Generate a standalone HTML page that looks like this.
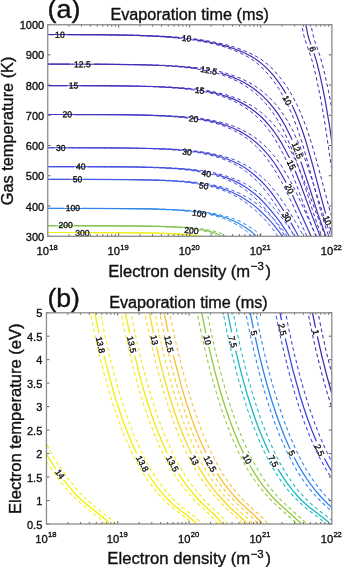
<!DOCTYPE html>
<html><head><meta charset="utf-8"><style>
html,body{margin:0;padding:0;background:#fff;width:342px;height:567px;overflow:hidden}
svg{display:block;will-change:transform}
text{font-family:"Liberation Sans", sans-serif;fill:#111;stroke:#111;stroke-width:0.35px}
.ax{fill:none;stroke:#8c8c8c;stroke-width:1.3}
.tk{fill:none;stroke:#505050;stroke-width:0.9}
.cl{font-size:8.6px;fill:#111}
</style></head><body>
<svg width="342" height="567" viewBox="0 0 342 567">
<rect width="342" height="567" fill="#fff"/>
<defs><clipPath id="clipa"><rect x="47.6" y="24.6" width="284.2" height="211.6"/></clipPath>
<clipPath id="clipb"><rect x="46.4" y="312.7" width="285.40000000000003" height="211.3"/></clipPath></defs>
<path d="M301.49 21.60L302.34 28.35L303.85 35.60L305.40 40.85L310.40 55.22L312.65 62.56L315.86 75.60L319.24 91.35L321.98 105.85L324.71 122.10L333.65 182.16" stroke="#3e2db4" stroke-width="1.0" stroke-dasharray="3.6,2.8" fill="none" clip-path="url(#clipa)"/>
<path d="M310.79 21.60L311.64 28.35L313.15 35.60L314.70 40.85L319.70 55.22L321.95 62.56L325.16 75.60L328.54 91.35L331.28 105.85L334.01 122.10L342.95 182.16" stroke="#3e2db4" stroke-width="1.0" stroke-dasharray="3.6,2.8" fill="none" clip-path="url(#clipa)"/>
<path d="M305.69 21.60L306.38 27.35L307.58 33.60L308.89 38.60L310.87 44.60" stroke="#3e2db4" stroke-width="1.2" fill="none" clip-path="url(#clipa)"/>
<path d="M313.97 53.35L316.60 61.66L319.10 71.48L322.37 86.10L325.18 100.35L329.53 126.10L337.85 182.16" stroke="#3e2db4" stroke-width="1.2" fill="none" clip-path="url(#clipa)"/>
<text class="cl" transform="translate(312.60,48.90) rotate(70.4)" text-anchor="middle" dy="3.0">6</text>
<path d="M37.40 34.52L96.15 34.72L131.90 35.31L159.90 36.55L172.15 37.49L183.40 38.66L194.65 40.20L205.15 42.06L214.90 44.24L224.15 46.81L232.65 49.72L240.15 52.87L247.15 56.46L253.15 60.25L258.15 64.14L263.90 69.60L269.15 75.45L274.15 81.89L278.90 88.89L283.31 96.35L287.58 104.60L291.56 113.35L297.02 127.35L302.40 143.74L308.03 163.35L320.50 210.35L325.20 225.85L329.76 239.35" stroke="#3e2db4" stroke-width="1.0" stroke-dasharray="3.6,2.8" fill="none" clip-path="url(#clipa)"/>
<path d="M46.70 34.52L105.45 34.72L141.20 35.31L169.20 36.55L181.45 37.49L192.70 38.66L203.95 40.20L214.45 42.06L224.20 44.24L233.45 46.81L241.95 49.72L249.45 52.87L256.45 56.46L262.45 60.25L267.45 64.14L273.20 69.60L278.45 75.45L283.45 81.89L288.20 88.89L292.61 96.35L296.88 104.60L300.86 113.35L306.32 127.35L311.70 143.74L317.33 163.35L329.80 210.35L334.50 225.85L339.06 239.35" stroke="#3e2db4" stroke-width="1.0" stroke-dasharray="3.6,2.8" fill="none" clip-path="url(#clipa)"/>
<path d="M41.60 34.52L53.10 34.53" stroke="#3e2db4" stroke-width="1.2" fill="none" clip-path="url(#clipa)"/>
<path d="M66.85 34.56L107.85 34.80L136.60 35.33L159.85 36.29L179.85 37.82" stroke="#3e2db4" stroke-width="1.2" fill="none" clip-path="url(#clipa)"/>
<path d="M193.60 39.43L202.60 40.82L211.35 42.47L219.35 44.30L227.10 46.43L234.10 48.71L240.85 51.32L246.85 54.07L252.35 57.04L256.85 59.90L261.11 63.10L265.60 67.11L269.85 71.45L274.10 76.36L278.35 81.89L282.35 87.72L285.95 93.60" stroke="#3e2db4" stroke-width="1.2" fill="none" clip-path="url(#clipa)"/>
<path d="M292.10 105.27L295.76 113.35L299.19 121.85L302.60 131.30L305.85 141.30L311.89 162.10L321.68 199.35L325.65 213.60" stroke="#3e2db4" stroke-width="1.2" fill="none" clip-path="url(#clipa)"/>
<path d="M329.73 226.85L333.96 239.35" stroke="#3e2db4" stroke-width="1.2" fill="none" clip-path="url(#clipa)"/>
<text class="cl" transform="translate(59.90,34.70) rotate(0.1)" text-anchor="middle" dy="3.0">10</text>
<text class="cl" transform="translate(186.70,38.30) rotate(6.6)" text-anchor="middle" dy="3.0">10</text>
<text class="cl" transform="translate(287.20,100.40) rotate(62.3)" text-anchor="middle" dy="3.0">10</text>
<text class="cl" transform="translate(327.30,220.40) rotate(72.9)" text-anchor="middle" dy="3.0">10</text>
<path d="M37.40 64.11L98.65 64.25L134.40 64.67L161.40 65.58L182.40 67.12L192.40 68.29L201.40 69.71L209.65 71.40L217.40 73.41L224.65 75.75L231.40 78.41L237.90 81.50L243.90 84.89L249.90 88.90L255.40 93.24L260.65 98.07L265.65 103.42L270.40 109.27L275.05 115.85L279.36 122.85L283.40 130.30L289.78 144.10L296.65 161.70L303.40 181.74L313.59 213.60L322.80 239.35" stroke="#402fb8" stroke-width="1.0" stroke-dasharray="3.6,2.8" fill="none" clip-path="url(#clipa)"/>
<path d="M46.70 64.11L107.95 64.25L143.70 64.67L170.70 65.58L191.70 67.12L201.70 68.29L210.70 69.71L218.95 71.40L226.70 73.41L233.95 75.75L240.70 78.41L247.20 81.50L253.20 84.89L259.20 88.90L264.70 93.24L269.95 98.07L274.95 103.42L279.70 109.27L284.35 115.85L288.66 122.85L292.70 130.30L299.08 144.10L305.95 161.70L312.70 181.74L322.89 213.60L332.10 239.35" stroke="#402fb8" stroke-width="1.0" stroke-dasharray="3.6,2.8" fill="none" clip-path="url(#clipa)"/>
<path d="M41.60 64.11L70.60 64.14" stroke="#402fb8" stroke-width="1.2" fill="none" clip-path="url(#clipa)"/>
<path d="M94.10 64.21L131.85 64.54L158.60 65.26L179.85 66.51L197.35 68.40" stroke="#402fb8" stroke-width="1.2" fill="none" clip-path="url(#clipa)"/>
<path d="M220.35 73.05L226.60 74.97L232.60 77.16L238.10 79.53L243.60 82.30L248.85 85.35L253.60 88.54L258.10 91.98L262.60 95.91L266.85 100.12L270.85 104.58L274.85 109.60L278.60 114.88L282.10 120.37L285.60 126.50L292.14 139.85" stroke="#402fb8" stroke-width="1.2" fill="none" clip-path="url(#clipa)"/>
<path d="M300.81 161.60L307.60 181.74L317.79 213.60L327.00 239.35" stroke="#402fb8" stroke-width="1.2" fill="none" clip-path="url(#clipa)"/>
<text class="cl" transform="translate(82.40,64.30) rotate(0.2)" text-anchor="middle" dy="3.0">12.5</text>
<text class="cl" transform="translate(208.90,70.40) rotate(11.3)" text-anchor="middle" dy="3.0">12.5</text>
<text class="cl" transform="translate(297.30,150.50) rotate(68.4)" text-anchor="middle" dy="3.0">12.5</text>
<path d="M37.40 85.65L97.15 85.77L132.15 86.14L158.40 86.92L178.90 88.25L188.65 89.27L197.40 90.49L205.40 91.94L212.90 93.66L219.90 95.65L226.65 98.01L232.90 100.66L238.65 103.56L244.40 107.00L249.90 110.86L255.15 115.17L260.15 119.95L264.65 124.91L269.16 130.60L273.40 136.68L277.65 143.60L284.65 156.81L290.65 170.17L296.40 184.54L307.49 214.60L317.15 239.35" stroke="#4133be" stroke-width="1.0" stroke-dasharray="3.6,2.8" fill="none" clip-path="url(#clipa)"/>
<path d="M46.70 85.65L106.45 85.77L141.45 86.14L167.70 86.92L188.20 88.25L197.95 89.27L206.70 90.49L214.70 91.94L222.20 93.66L229.20 95.65L235.95 98.01L242.20 100.66L247.95 103.56L253.70 107.00L259.20 110.86L264.45 115.17L269.45 119.95L273.95 124.91L278.46 130.60L282.70 136.68L286.95 143.60L293.95 156.81L299.95 170.17L305.70 184.54L316.79 214.60L326.45 239.35" stroke="#4133be" stroke-width="1.0" stroke-dasharray="3.6,2.8" fill="none" clip-path="url(#clipa)"/>
<path d="M41.60 85.65L66.60 85.67" stroke="#4133be" stroke-width="1.2" fill="none" clip-path="url(#clipa)"/>
<path d="M80.35 85.70L123.35 85.94L152.10 86.52L174.60 87.59L192.85 89.27" stroke="#4133be" stroke-width="1.2" fill="none" clip-path="url(#clipa)"/>
<path d="M206.58 91.35L214.10 92.92L221.10 94.75L227.85 96.91L234.10 99.33L240.10 102.11L245.60 105.13L251.10 108.68L256.10 112.43L260.85 116.53L265.35 121.00L269.60 125.80L273.85 131.26L277.85 137.07L281.60 143.16L285.60 150.42L289.47 158.10" stroke="#4133be" stroke-width="1.2" fill="none" clip-path="url(#clipa)"/>
<path d="M295.10 170.78L300.60 184.54L311.69 214.60L321.35 239.35" stroke="#4133be" stroke-width="1.2" fill="none" clip-path="url(#clipa)"/>
<text class="cl" transform="translate(73.50,85.60) rotate(0.1)" text-anchor="middle" dy="3.0">15</text>
<text class="cl" transform="translate(199.80,90.40) rotate(8.6)" text-anchor="middle" dy="3.0">15</text>
<text class="cl" transform="translate(291.50,164.80) rotate(66.1)" text-anchor="middle" dy="3.0">15</text>
<path d="M37.40 114.50L94.90 114.60L128.65 114.89L153.90 115.53L173.65 116.61L191.15 118.39L198.90 119.56L206.15 120.96L212.90 122.58L219.15 124.42L225.15 126.55L230.90 128.99L236.65 131.89L241.90 135.01L246.90 138.48L251.90 142.50L256.65 146.91L261.40 151.93L265.90 157.26L270.15 162.95L276.90 173.60L281.40 181.53L284.90 188.26L291.65 202.48L308.27 239.35" stroke="#4238c6" stroke-width="1.0" stroke-dasharray="3.6,2.8" fill="none" clip-path="url(#clipa)"/>
<path d="M46.70 114.50L104.20 114.60L137.95 114.89L163.20 115.53L182.95 116.61L200.45 118.39L208.20 119.56L215.45 120.96L222.20 122.58L228.45 124.42L234.45 126.55L240.20 128.99L245.95 131.89L251.20 135.01L256.20 138.48L261.20 142.50L265.95 146.91L270.70 151.93L275.20 157.26L279.45 162.95L286.20 173.60L290.70 181.53L294.20 188.26L300.95 202.48L317.57 239.35" stroke="#4238c6" stroke-width="1.0" stroke-dasharray="3.6,2.8" fill="none" clip-path="url(#clipa)"/>
<path d="M41.60 114.50L60.35 114.51" stroke="#4238c6" stroke-width="1.2" fill="none" clip-path="url(#clipa)"/>
<path d="M74.10 114.53L117.85 114.71L146.60 115.17L168.85 116.03L186.85 117.40" stroke="#4238c6" stroke-width="1.2" fill="none" clip-path="url(#clipa)"/>
<path d="M200.60 119.15L208.35 120.54L215.60 122.19L222.35 124.10L228.60 126.26L234.60 128.76L240.35 131.62L245.60 134.69L250.85 138.30L255.85 142.29L260.54 146.60L265.35 151.65L269.97 157.10L273.85 162.24L277.60 167.81L286.18 182.60" stroke="#4238c6" stroke-width="1.2" fill="none" clip-path="url(#clipa)"/>
<path d="M292.42 195.10L312.47 239.35" stroke="#4238c6" stroke-width="1.2" fill="none" clip-path="url(#clipa)"/>
<text class="cl" transform="translate(67.30,114.20) rotate(0.1)" text-anchor="middle" dy="3.0">20</text>
<text class="cl" transform="translate(193.70,118.80) rotate(7.3)" text-anchor="middle" dy="3.0">20</text>
<text class="cl" transform="translate(289.50,188.80) rotate(63.6)" text-anchor="middle" dy="3.0">20</text>
<path d="M37.40 147.74L123.90 148.04L147.90 148.51L166.65 149.32L183.65 150.67L197.90 152.57L210.40 155.15L221.65 158.52L227.15 160.65L232.15 162.94L237.15 165.62L241.65 168.42L246.40 171.85L251.15 175.73L256.15 180.25L260.38 184.60L268.15 194.02L276.40 205.90L286.23 221.85L292.33 232.60L295.81 239.35" stroke="#4444d4" stroke-width="1.0" stroke-dasharray="3.6,2.8" fill="none" clip-path="url(#clipa)"/>
<path d="M46.70 147.74L133.20 148.04L157.20 148.51L175.95 149.32L192.95 150.67L207.20 152.57L219.70 155.15L230.95 158.52L236.45 160.65L241.45 162.94L246.45 165.62L250.95 168.42L255.70 171.85L260.45 175.73L265.45 180.25L269.68 184.60L277.45 194.02L285.70 205.90L295.53 221.85L301.63 232.60L305.11 239.35" stroke="#4444d4" stroke-width="1.0" stroke-dasharray="3.6,2.8" fill="none" clip-path="url(#clipa)"/>
<path d="M41.60 147.74L53.85 147.74" stroke="#4444d4" stroke-width="1.2" fill="none" clip-path="url(#clipa)"/>
<path d="M67.60 147.76L112.10 147.89L140.60 148.23L162.60 148.90L180.35 149.97" stroke="#4444d4" stroke-width="1.2" fill="none" clip-path="url(#clipa)"/>
<path d="M193.85 151.36L201.85 152.53L209.35 153.94L216.35 155.60L222.85 157.50L229.10 159.74L234.85 162.22L240.35 165.05L245.35 168.09L250.35 171.66L255.60 175.94L260.85 180.74L265.26 185.35L269.60 190.48L274.10 196.39L278.85 203.23L283.74 210.85" stroke="#4444d4" stroke-width="1.2" fill="none" clip-path="url(#clipa)"/>
<path d="M290.85 222.58L296.60 232.73L300.01 239.35" stroke="#4444d4" stroke-width="1.2" fill="none" clip-path="url(#clipa)"/>
<text class="cl" transform="translate(60.80,147.60) rotate(0.0)" text-anchor="middle" dy="3.0">30</text>
<text class="cl" transform="translate(187.00,151.90) rotate(5.8)" text-anchor="middle" dy="3.0">30</text>
<text class="cl" transform="translate(286.90,217.00) rotate(58.7)" text-anchor="middle" dy="3.0">30</text>
<path d="M37.40 166.65L120.65 166.89L143.90 167.27L161.90 167.90L177.90 168.96L191.65 170.48L203.65 172.54L214.65 175.26L225.90 179.11L235.15 183.40L239.65 186.00L244.15 188.98L248.40 192.16L252.65 195.74L257.15 199.95L261.65 204.64L271.15 215.91L275.80 222.10L281.40 230.22L286.93 239.35" stroke="#4450de" stroke-width="1.0" stroke-dasharray="3.6,2.8" fill="none" clip-path="url(#clipa)"/>
<path d="M46.70 166.65L129.95 166.89L153.20 167.27L171.20 167.90L187.20 168.96L200.95 170.48L212.95 172.54L223.95 175.26L235.20 179.11L244.45 183.40L248.95 186.00L253.45 188.98L257.70 192.16L261.95 195.74L266.45 199.95L270.95 204.64L280.45 215.91L285.10 222.10L290.70 230.22L296.23 239.35" stroke="#4450de" stroke-width="1.0" stroke-dasharray="3.6,2.8" fill="none" clip-path="url(#clipa)"/>
<path d="M41.60 166.65L73.85 166.67" stroke="#4450de" stroke-width="1.2" fill="none" clip-path="url(#clipa)"/>
<path d="M87.60 166.69L131.85 166.97L160.35 167.65L182.10 168.96L191.35 169.90L199.85 171.08" stroke="#4450de" stroke-width="1.2" fill="none" clip-path="url(#clipa)"/>
<path d="M213.10 173.72L219.35 175.41L225.35 177.34L231.35 179.62L236.35 181.87L241.10 184.37L245.85 187.27L250.35 190.43L254.85 194.01L259.60 198.26L264.35 203.02L268.85 208.02L274.35 214.64L279.35 221.20L285.18 229.60L288.35 234.50L291.13 239.35" stroke="#4450de" stroke-width="1.2" fill="none" clip-path="url(#clipa)"/>
<text class="cl" transform="translate(80.70,166.60) rotate(0.1)" text-anchor="middle" dy="3.0">40</text>
<text class="cl" transform="translate(206.30,173.50) rotate(11.2)" text-anchor="middle" dy="3.0">40</text>
<path d="M37.40 179.34L118.90 179.53L141.40 179.84L159.15 180.36L174.90 181.22L188.15 182.45L199.90 184.13L210.15 186.28L220.65 189.39L230.40 193.36L239.40 198.19L247.90 204.00L256.90 211.63L265.15 219.91L274.60 231.35L279.98 239.35" stroke="#425ae4" stroke-width="1.0" stroke-dasharray="3.6,2.8" fill="none" clip-path="url(#clipa)"/>
<path d="M46.70 179.34L128.20 179.53L150.70 179.84L168.45 180.36L184.20 181.22L197.45 182.45L209.20 184.13L219.45 186.28L229.95 189.39L239.70 193.36L248.70 198.19L257.20 204.00L266.20 211.63L274.45 219.91L283.90 231.35L289.28 239.35" stroke="#425ae4" stroke-width="1.0" stroke-dasharray="3.6,2.8" fill="none" clip-path="url(#clipa)"/>
<path d="M41.60 179.34L70.60 179.35" stroke="#425ae4" stroke-width="1.2" fill="none" clip-path="url(#clipa)"/>
<path d="M84.35 179.37L129.10 179.59L157.85 180.16L179.85 181.27L197.35 183.08" stroke="#425ae4" stroke-width="1.2" fill="none" clip-path="url(#clipa)"/>
<path d="M210.60 185.41L221.85 188.39L232.10 192.22L241.60 197.01L250.60 202.88L255.10 206.37L259.85 210.49L268.85 219.37L272.85 223.94L278.60 231.09L281.49 235.10L284.18 239.35" stroke="#425ae4" stroke-width="1.2" fill="none" clip-path="url(#clipa)"/>
<text class="cl" transform="translate(77.50,179.20) rotate(0.1)" text-anchor="middle" dy="3.0">50</text>
<text class="cl" transform="translate(203.70,185.80) rotate(9.9)" text-anchor="middle" dy="3.0">50</text>
<path d="M37.40 208.40L111.40 208.52L148.90 208.99L176.15 210.15L186.90 211.05L196.90 212.25L206.90 213.94L215.30 215.90L223.50 218.47L230.65 221.42L237.48 225.05L245.37 230.27L249.95 234.10L254.90 239.35" stroke="#2f86ea" stroke-width="1.0" stroke-dasharray="3.6,2.8" fill="none" clip-path="url(#clipa)"/>
<path d="M46.70 208.40L120.70 208.52L158.20 208.99L185.45 210.15L196.20 211.05L206.20 212.25L216.20 213.94L224.60 215.90L232.80 218.47L239.95 221.42L246.78 225.05L254.67 230.27L259.25 234.10L264.20 239.35" stroke="#2f86ea" stroke-width="1.0" stroke-dasharray="3.6,2.8" fill="none" clip-path="url(#clipa)"/>
<path d="M41.60 208.40L63.60 208.41" stroke="#2f86ea" stroke-width="1.2" fill="none" clip-path="url(#clipa)"/>
<path d="M82.10 208.43L124.85 208.58L152.35 208.97L173.35 209.73L190.35 210.97" stroke="#2f86ea" stroke-width="1.2" fill="none" clip-path="url(#clipa)"/>
<path d="M208.60 213.46L216.58 215.14L224.09 217.25L231.05 219.76L237.46 222.70L244.01 226.51L250.34 230.85L254.42 234.35L259.10 239.35" stroke="#2f86ea" stroke-width="1.2" fill="none" clip-path="url(#clipa)"/>
<text class="cl" transform="translate(72.80,208.00) rotate(0.0)" text-anchor="middle" dy="3.0">100</text>
<text class="cl" transform="translate(199.30,213.60) rotate(7.7)" text-anchor="middle" dy="3.0">100</text>
<path d="M37.40 225.70L135.15 225.99L159.90 226.52L178.51 227.46L194.13 229.10L200.47 230.19L205.90 231.45L209.87 232.68L213.33 234.10L222.54 239.35" stroke="#80c450" stroke-width="1.0" stroke-dasharray="3.6,2.8" fill="none" clip-path="url(#clipa)"/>
<path d="M46.70 225.70L144.45 225.99L169.20 226.52L187.81 227.46L203.43 229.10L209.77 230.19L215.20 231.45L219.17 232.68L222.63 234.10L231.84 239.35" stroke="#80c450" stroke-width="1.0" stroke-dasharray="3.6,2.8" fill="none" clip-path="url(#clipa)"/>
<path d="M41.60 225.70L56.35 225.71" stroke="#80c450" stroke-width="1.2" fill="none" clip-path="url(#clipa)"/>
<path d="M75.10 225.71L145.60 226.08L166.85 226.62L182.71 227.46" stroke="#80c450" stroke-width="1.2" fill="none" clip-path="url(#clipa)"/>
<path d="M200.54 229.45L208.46 231.03L214.83 232.96L218.82 234.75L226.74 239.35" stroke="#80c450" stroke-width="1.2" fill="none" clip-path="url(#clipa)"/>
<text class="cl" transform="translate(65.70,225.30) rotate(0.0)" text-anchor="middle" dy="3.0">200</text>
<text class="cl" transform="translate(191.40,230.60) rotate(6.1)" text-anchor="middle" dy="3.0">200</text>
<path d="M37.40 232.50L123.15 232.66L145.40 232.94L162.40 233.43L177.40 234.28L189.65 235.51L199.65 237.18L207.83 239.35" stroke="#f2ee18" stroke-width="1.0" stroke-dasharray="3.6,2.8" fill="none" clip-path="url(#clipa)"/>
<path d="M46.70 232.50L132.45 232.66L154.70 232.94L171.70 233.43L186.70 234.28L198.95 235.51L208.95 237.18L217.13 239.35" stroke="#f2ee18" stroke-width="1.0" stroke-dasharray="3.6,2.8" fill="none" clip-path="url(#clipa)"/>
<path d="M41.60 232.50L73.10 232.51" stroke="#f2ee18" stroke-width="1.2" fill="none" clip-path="url(#clipa)"/>
<path d="M91.60 232.53L144.10 232.85L160.85 233.23L174.60 233.81L186.35 234.68L196.35 235.86L204.85 237.40L212.03 239.35" stroke="#f2ee18" stroke-width="1.2" fill="none" clip-path="url(#clipa)"/>
<text class="cl" transform="translate(82.40,233.00) rotate(0.1)" text-anchor="middle" dy="3.0">300</text>
<path d="M-1.50 309.70L2.82 331.20L7.39 351.70L12.09 370.70L17.03 388.70L22.23 405.70L27.54 421.20L33.54 436.70L38.27 447.20L43.02 456.20L47.72 463.70L57.90 478.20L65.33 487.70L71.67 494.70L78.42 501.20L85.01 506.70L98.99 517.70L102.43 520.70L104.28 522.70L105.26 524.20L105.65 525.70L105.45 526.70" stroke="#f0f000" stroke-width="1.05" stroke-dasharray="3.6,2.8" fill="none" clip-path="url(#clipb)"/>
<path d="M8.50 309.70L12.82 331.20L17.39 351.70L22.09 370.70L27.03 388.70L32.23 405.70L37.54 421.20L43.54 436.70L48.27 447.20L53.02 456.20L57.72 463.70L67.90 478.20L75.33 487.70L81.67 494.70L88.42 501.20L95.01 506.70L108.99 517.70L112.43 520.70L114.28 522.70L115.26 524.20L115.65 525.70L115.45 526.70" stroke="#f0f000" stroke-width="1.05" stroke-dasharray="3.6,2.8" fill="none" clip-path="url(#clipb)"/>
<path d="M3.00 309.70L8.72 337.70L14.68 363.20L21.09 387.20L27.71 408.70L34.46 427.70L41.09 443.70L47.81 456.70L55.65 468.70" stroke="#f0f000" stroke-width="1.3" fill="none" clip-path="url(#clipb)"/>
<path d="M63.63 479.87L71.56 489.70L76.17 494.70L80.73 499.20L86.43 504.20L103.49 517.70L107.43 521.20L109.76 524.20L110.15 525.70L109.95 526.70" stroke="#f0f000" stroke-width="1.3" fill="none" clip-path="url(#clipb)"/>
<text class="cl" transform="translate(60.00,474.10) rotate(54.7)" text-anchor="middle" dy="3.0">14</text>
<path d="M89.68 309.70L94.11 331.70L98.69 352.20L103.53 371.70L108.64 390.20L113.90 407.20L119.27 422.70L124.92 437.20L130.90 450.70L136.43 461.70L142.14 471.70L148.00 480.70L154.36 489.20L161.29 497.20L168.83 504.70L185.52 517.70L189.57 521.20L190.95 522.70L191.93 524.20L192.33 525.70L192.13 526.70" stroke="#f2ee04" stroke-width="1.05" stroke-dasharray="3.6,2.8" fill="none" clip-path="url(#clipb)"/>
<path d="M99.68 309.70L104.11 331.70L108.69 352.20L113.53 371.70L118.64 390.20L123.90 407.20L129.27 422.70L134.92 437.20L140.90 450.70L146.43 461.70L152.14 471.70L158.00 480.70L164.36 489.20L171.29 497.20L178.83 504.70L195.52 517.70L199.57 521.20L200.95 522.70L201.93 524.20L202.33 525.70L202.13 526.70" stroke="#f2ee04" stroke-width="1.05" stroke-dasharray="3.6,2.8" fill="none" clip-path="url(#clipb)"/>
<path d="M94.18 309.70L98.93 333.20" stroke="#f2ee04" stroke-width="1.3" fill="none" clip-path="url(#clipb)"/>
<path d="M104.08 355.95L111.56 384.70L115.39 397.70L119.39 410.20L123.58 422.20L127.79 433.20L132.20 443.70L136.72 453.45" stroke="#f2ee04" stroke-width="1.3" fill="none" clip-path="url(#clipb)"/>
<path d="M148.04 473.95L152.15 480.20L156.51 486.20L160.91 491.70L165.32 496.70L173.90 505.20L189.39 517.20L193.55 520.70L195.45 522.70L196.43 524.20L196.83 525.70L196.63 526.70" stroke="#f2ee04" stroke-width="1.3" fill="none" clip-path="url(#clipb)"/>
<text class="cl" transform="translate(100.50,344.90) rotate(77.2)" text-anchor="middle" dy="3.0">13.8</text>
<text class="cl" transform="translate(142.50,463.60) rotate(61.2)" text-anchor="middle" dy="3.0">13.8</text>
<path d="M120.30 309.70L124.52 330.70L128.96 350.70L133.63 369.70L138.39 387.20L143.39 403.70L148.62 419.20L153.91 433.20L159.44 446.20L164.45 456.70L169.82 466.70L175.27 475.70L180.76 483.70L186.61 491.20L194.87 500.70L200.39 506.20L209.90 514.70L212.70 517.70L217.68 523.70L218.30 525.20L218.15 526.70" stroke="#f2e80a" stroke-width="1.05" stroke-dasharray="3.6,2.8" fill="none" clip-path="url(#clipb)"/>
<path d="M130.30 309.70L134.52 330.70L138.96 350.70L143.63 369.70L148.39 387.20L153.39 403.70L158.62 419.20L163.91 433.20L169.44 446.20L174.45 456.70L179.82 466.70L185.27 475.70L190.76 483.70L196.61 491.20L204.87 500.70L210.39 506.20L219.90 514.70L222.70 517.70L227.68 523.70L228.30 525.20L228.15 526.70" stroke="#f2e80a" stroke-width="1.05" stroke-dasharray="3.6,2.8" fill="none" clip-path="url(#clipb)"/>
<path d="M124.80 309.70L129.50 332.95" stroke="#f2e80a" stroke-width="1.3" fill="none" clip-path="url(#clipb)"/>
<path d="M134.70 355.95L142.18 384.70L146.01 397.70L150.01 410.20L154.20 422.20L158.41 433.20L162.82 443.70L167.22 453.20" stroke="#f2e80a" stroke-width="1.3" fill="none" clip-path="url(#clipb)"/>
<path d="M178.50 473.70L182.78 480.20L187.13 486.20L197.10 498.20L203.83 505.20L214.91 515.20L221.07 522.20L222.67 524.70L222.85 525.70L222.65 526.70" stroke="#f2e80a" stroke-width="1.3" fill="none" clip-path="url(#clipb)"/>
<text class="cl" transform="translate(131.70,344.50) rotate(77.3)" text-anchor="middle" dy="3.0">13.5</text>
<text class="cl" transform="translate(172.50,463.60) rotate(61.3)" text-anchor="middle" dy="3.0">13.5</text>
<path d="M144.24 309.70L148.56 331.20L153.01 351.20L157.70 370.20L162.48 387.70L167.49 404.20L172.74 419.70L178.25 434.20L183.83 447.20L188.90 457.70L194.33 467.70L199.86 476.70L205.81 485.20L212.25 493.20L223.59 505.70L228.24 510.20L239.09 519.70L241.60 522.20L243.20 524.70L243.39 525.70L243.19 526.70" stroke="#f6da1c" stroke-width="1.05" stroke-dasharray="3.6,2.8" fill="none" clip-path="url(#clipb)"/>
<path d="M154.24 309.70L158.56 331.20L163.01 351.20L167.70 370.20L172.48 387.70L177.49 404.20L182.74 419.70L188.25 434.20L193.83 447.20L198.90 457.70L204.33 467.70L209.86 476.70L215.81 485.20L222.25 493.20L233.59 505.70L238.24 510.20L249.09 519.70L251.60 522.20L253.20 524.70L253.39 525.70L253.19 526.70" stroke="#f6da1c" stroke-width="1.05" stroke-dasharray="3.6,2.8" fill="none" clip-path="url(#clipb)"/>
<path d="M148.74 309.70L153.49 333.20" stroke="#f6da1c" stroke-width="1.3" fill="none" clip-path="url(#clipb)"/>
<path d="M156.47 346.70L160.29 362.70L164.32 378.20L168.44 392.70L172.79 406.70L177.24 419.70L181.75 431.70L186.54 443.20L191.40 453.70" stroke="#f6da1c" stroke-width="1.3" fill="none" clip-path="url(#clipb)"/>
<path d="M197.83 465.95L205.69 478.70L209.94 484.70L214.23 490.20L218.51 495.20L229.07 506.70L245.65 521.70L246.89 523.20L247.70 524.70L247.89 525.70L247.69 526.70" stroke="#f6da1c" stroke-width="1.3" fill="none" clip-path="url(#clipb)"/>
<text class="cl" transform="translate(154.50,340.00) rotate(77.5)" text-anchor="middle" dy="3.0">13</text>
<text class="cl" transform="translate(194.50,460.00) rotate(62.3)" text-anchor="middle" dy="3.0">13</text>
<path d="M159.09 309.70L163.41 331.20L167.86 351.20L172.55 370.20L177.33 387.70L182.33 404.20L187.59 419.70L193.10 434.20L198.68 447.20L203.75 457.70L209.18 467.70L214.71 476.70L220.66 485.20L226.24 492.20L232.60 499.20L240.23 506.70L250.18 515.70L256.10 521.70L257.34 523.20L258.15 524.70L258.34 525.70L258.14 526.70" stroke="#f8c030" stroke-width="1.05" stroke-dasharray="3.6,2.8" fill="none" clip-path="url(#clipb)"/>
<path d="M169.09 309.70L173.41 331.20L177.86 351.20L182.55 370.20L187.33 387.70L192.33 404.20L197.59 419.70L203.10 434.20L208.68 447.20L213.75 457.70L219.18 467.70L224.71 476.70L230.66 485.20L236.24 492.20L242.60 499.20L250.23 506.70L260.18 515.70L266.10 521.70L267.34 523.20L268.15 524.70L268.34 525.70L268.14 526.70" stroke="#f8c030" stroke-width="1.05" stroke-dasharray="3.6,2.8" fill="none" clip-path="url(#clipb)"/>
<path d="M163.59 309.70L168.13 332.20" stroke="#f8c030" stroke-width="1.3" fill="none" clip-path="url(#clipb)"/>
<path d="M173.25 354.95L180.69 383.70L184.64 397.20L188.63 409.70L192.81 421.70L197.00 432.70L201.39 443.20L205.89 452.95" stroke="#f8c030" stroke-width="1.3" fill="none" clip-path="url(#clipb)"/>
<path d="M217.13 473.45L224.05 483.70L231.17 492.70L235.66 497.70L240.58 502.70L254.15 515.20L260.60 521.70L261.84 523.20L262.65 524.70L262.84 525.70L262.64 526.70" stroke="#f8c030" stroke-width="1.3" fill="none" clip-path="url(#clipb)"/>
<text class="cl" transform="translate(169.00,344.00) rotate(77.3)" text-anchor="middle" dy="3.0">12.5</text>
<text class="cl" transform="translate(210.20,464.00) rotate(61.3)" text-anchor="middle" dy="3.0">12.5</text>
<path d="M196.56 309.70L200.89 331.20L205.46 351.70L210.15 370.70L215.09 388.70L220.13 405.20L225.43 420.70L230.99 435.20L236.62 448.20L242.00 459.20L247.53 469.20L253.18 478.20L259.28 486.70L265.45 494.20L272.06 501.20L277.36 506.20L294.78 521.70L296.02 523.20L296.83 524.70L297.02 525.70L296.82 526.70" stroke="#92c83a" stroke-width="1.05" stroke-dasharray="3.6,2.8" fill="none" clip-path="url(#clipb)"/>
<path d="M206.56 309.70L210.89 331.20L215.46 351.70L220.15 370.70L225.09 388.70L230.13 405.20L235.43 420.70L240.99 435.20L246.62 448.20L252.00 459.20L257.53 469.20L263.18 478.20L269.28 486.70L275.45 494.20L282.06 501.20L287.36 506.20L304.78 521.70L306.02 523.20L306.83 524.70L307.02 525.70L306.82 526.70" stroke="#92c83a" stroke-width="1.05" stroke-dasharray="3.6,2.8" fill="none" clip-path="url(#clipb)"/>
<path d="M201.06 309.70L205.82 333.20" stroke="#92c83a" stroke-width="1.3" fill="none" clip-path="url(#clipb)"/>
<path d="M208.80 346.70L212.62 362.70L216.65 378.20L220.77 392.70L225.12 406.70L229.57 419.70L234.08 431.70L238.65 442.70L243.49 453.20" stroke="#92c83a" stroke-width="1.3" fill="none" clip-path="url(#clipb)"/>
<path d="M249.88 465.45L254.14 472.70L258.36 479.20L263.01 485.70L267.80 491.70L273.14 497.70L278.62 503.20L299.28 521.70L300.52 523.20L301.33 524.70L301.52 525.70L301.32 526.70" stroke="#92c83a" stroke-width="1.3" fill="none" clip-path="url(#clipb)"/>
<text class="cl" transform="translate(207.50,340.00) rotate(77.5)" text-anchor="middle" dy="3.0">10</text>
<text class="cl" transform="translate(247.10,459.20) rotate(62.5)" text-anchor="middle" dy="3.0">10</text>
<path d="M222.52 309.70L226.96 331.70L231.65 352.70L236.50 372.20L241.64 390.70L246.91 407.70L252.48 423.70L258.19 438.20L263.98 451.20L269.55 462.20L275.60 472.70L281.55 481.70L288.01 490.20L294.63 497.70L301.96 504.70L308.00 509.70L319.91 518.70L323.40 521.70L324.77 523.20L325.71 524.70L325.98 525.70L325.85 526.70" stroke="#1ab8c0" stroke-width="1.05" stroke-dasharray="3.6,2.8" fill="none" clip-path="url(#clipb)"/>
<path d="M232.52 309.70L236.96 331.70L241.65 352.70L246.50 372.20L251.64 390.70L256.91 407.70L262.48 423.70L268.19 438.20L273.98 451.20L279.55 462.20L285.60 472.70L291.55 481.70L298.01 490.20L304.63 497.70L311.96 504.70L318.00 509.70L329.91 518.70L333.40 521.70L334.77 523.20L335.71 524.70L335.98 525.70L335.85 526.70" stroke="#1ab8c0" stroke-width="1.05" stroke-dasharray="3.6,2.8" fill="none" clip-path="url(#clipb)"/>
<path d="M227.02 309.70L231.62 332.45" stroke="#1ab8c0" stroke-width="1.3" fill="none" clip-path="url(#clipb)"/>
<path d="M235.68 350.70L239.46 366.20L243.29 380.70L247.32 394.70L251.41 407.70L255.70 420.20L260.04 431.70L264.61 442.70L269.20 452.70" stroke="#1ab8c0" stroke-width="1.3" fill="none" clip-path="url(#clipb)"/>
<path d="M277.99 469.20L282.32 476.20L287.12 483.20L292.11 489.70L297.25 495.70L302.13 500.70L308.19 506.20L327.37 521.20L329.96 524.20L330.48 525.70L330.35 526.70" stroke="#1ab8c0" stroke-width="1.3" fill="none" clip-path="url(#clipb)"/>
<text class="cl" transform="translate(232.80,341.80) rotate(77.4)" text-anchor="middle" dy="3.0">7.5</text>
<text class="cl" transform="translate(273.40,461.00) rotate(62.0)" text-anchor="middle" dy="3.0">7.5</text>
<path d="M245.13 309.70L249.46 331.20L254.03 351.70L258.85 371.20L263.81 389.20L269.03 406.20L274.36 421.70L279.97 436.20L285.65 449.20L291.10 460.20L296.70 470.20L302.43 479.20L308.62 487.70L315.36 495.70L322.16 502.70L328.19 508.20L340.26 518.20L344.05 521.70L345.29 523.20L346.10 524.70L346.29 525.70L346.09 526.70" stroke="#2a84f0" stroke-width="1.05" stroke-dasharray="3.6,2.8" fill="none" clip-path="url(#clipb)"/>
<path d="M255.13 309.70L259.46 331.20L264.03 351.70L268.85 371.20L273.81 389.20L279.03 406.20L284.36 421.70L289.97 436.20L295.65 449.20L301.10 460.20L306.70 470.20L312.43 479.20L318.62 487.70L325.36 495.70L332.16 502.70L338.19 508.20L350.26 518.20L354.05 521.70L355.29 523.20L356.10 524.70L356.29 525.70L356.09 526.70" stroke="#2a84f0" stroke-width="1.05" stroke-dasharray="3.6,2.8" fill="none" clip-path="url(#clipb)"/>
<path d="M249.63 309.70L253.38 328.45" stroke="#2a84f0" stroke-width="1.3" fill="none" clip-path="url(#clipb)"/>
<path d="M255.25 337.20L259.12 354.20L263.09 370.20L267.16 385.20L271.46 399.70L275.86 413.20L280.53 426.20L285.30 438.20L290.04 448.95" stroke="#2a84f0" stroke-width="1.3" fill="none" clip-path="url(#clipb)"/>
<path d="M294.04 457.20L298.87 466.20L303.97 474.70L309.37 482.70L314.72 489.70L320.78 496.70L327.71 503.70L333.27 508.70L344.76 518.20L348.07 521.20L350.39 524.20L350.79 525.70L350.59 526.70" stroke="#2a84f0" stroke-width="1.3" fill="none" clip-path="url(#clipb)"/>
<text class="cl" transform="translate(253.90,333.00) rotate(77.9)" text-anchor="middle" dy="3.0">5</text>
<text class="cl" transform="translate(291.80,453.20) rotate(64.1)" text-anchor="middle" dy="3.0">5</text>
<path d="M274.92 309.70L279.25 331.20L283.81 351.70L288.64 371.20L293.59 389.20L298.81 406.20L304.14 421.70L309.75 436.20L315.44 449.20L320.88 460.20L326.48 470.20L332.21 479.20L338.41 487.70L345.15 495.70L351.95 502.70L357.98 508.20L370.05 518.20L373.84 521.70L375.08 523.20L375.89 524.70L376.07 525.70L375.87 526.70" stroke="#3c44e2" stroke-width="1.05" stroke-dasharray="3.6,2.8" fill="none" clip-path="url(#clipb)"/>
<path d="M284.92 309.70L289.25 331.20L293.81 351.70L298.64 371.20L303.59 389.20L308.81 406.20L314.14 421.70L319.75 436.20L325.44 449.20L330.88 460.20L336.48 470.20L342.21 479.20L348.41 487.70L355.15 495.70L361.95 502.70L367.98 508.20L380.05 518.20L383.84 521.70L385.08 523.20L385.89 524.70L386.07 525.70L385.87 526.70" stroke="#3c44e2" stroke-width="1.05" stroke-dasharray="3.6,2.8" fill="none" clip-path="url(#clipb)"/>
<path d="M279.42 309.70L281.48 320.20" stroke="#3c44e2" stroke-width="1.3" fill="none" clip-path="url(#clipb)"/>
<path d="M285.31 338.45L292.36 368.20L299.87 395.20L303.80 407.70L307.92 419.70L312.04 430.70L316.36 441.20" stroke="#3c44e2" stroke-width="1.3" fill="none" clip-path="url(#clipb)"/>
<path d="M324.34 458.20L329.22 467.20L334.07 475.20L339.52 483.20L344.91 490.20L351.03 497.20L357.50 503.70L363.05 508.70L374.55 518.20L377.85 521.20L380.18 524.20L380.57 525.70L380.37 526.70" stroke="#3c44e2" stroke-width="1.3" fill="none" clip-path="url(#clipb)"/>
<text class="cl" transform="translate(282.50,329.50) rotate(78.2)" text-anchor="middle" dy="3.0">2.5</text>
<text class="cl" transform="translate(319.50,450.10) rotate(64.9)" text-anchor="middle" dy="3.0">2.5</text>
<path d="M307.40 309.70L311.73 331.20L316.29 351.70L321.12 371.20L326.07 389.20L331.29 406.20L336.62 421.70L342.23 436.20L347.92 449.20L353.36 460.20L358.96 470.20L364.69 479.20L370.89 487.70L377.63 495.70L384.43 502.70L390.46 508.20L402.53 518.20L406.31 521.70L407.56 523.20L408.37 524.70L408.55 525.70L408.35 526.70" stroke="#3e2db8" stroke-width="1.05" stroke-dasharray="3.6,2.8" fill="none" clip-path="url(#clipb)"/>
<path d="M317.40 309.70L321.73 331.20L326.29 351.70L331.12 371.20L336.07 389.20L341.29 406.20L346.62 421.70L352.23 436.20L357.92 449.20L363.36 460.20L368.96 470.20L374.69 479.20L380.89 487.70L387.63 495.70L394.43 502.70L400.46 508.20L412.53 518.20L416.31 521.70L417.56 523.20L418.37 524.70L418.55 525.70L418.35 526.70" stroke="#3e2db8" stroke-width="1.05" stroke-dasharray="3.6,2.8" fill="none" clip-path="url(#clipb)"/>
<path d="M311.90 309.70L315.49 327.70" stroke="#3e2db8" stroke-width="1.3" fill="none" clip-path="url(#clipb)"/>
<path d="M317.35 336.45L321.62 355.20L326.01 372.70L330.57 389.20L335.31 404.70L340.22 419.20L345.31 432.70L350.37 444.70L355.80 456.20L360.85 465.70L365.91 474.20L371.28 482.20L376.98 489.70L383.04 496.70L389.98 503.70L395.53 508.70L407.03 518.20L410.33 521.20L412.66 524.20L413.05 525.70L412.85 526.70" stroke="#3e2db8" stroke-width="1.3" fill="none" clip-path="url(#clipb)"/>
<text class="cl" transform="translate(315.90,332.20) rotate(78.0)" text-anchor="middle" dy="3.0">1</text>
<path d="M68.99 236.20V234.20M68.99 24.60V26.60" class="tk"/>
<path d="M81.50 236.20V234.20M81.50 24.60V26.60" class="tk"/>
<path d="M90.38 236.20V234.20M90.38 24.60V26.60" class="tk"/>
<path d="M97.26 236.20V234.20M97.26 24.60V26.60" class="tk"/>
<path d="M102.89 236.20V234.20M102.89 24.60V26.60" class="tk"/>
<path d="M107.64 236.20V234.20M107.64 24.60V26.60" class="tk"/>
<path d="M111.76 236.20V234.20M111.76 24.60V26.60" class="tk"/>
<path d="M115.40 236.20V234.20M115.40 24.60V26.60" class="tk"/>
<path d="M118.65 236.20V233.20M118.65 24.60V27.60" class="tk"/>
<path d="M140.04 236.20V234.20M140.04 24.60V26.60" class="tk"/>
<path d="M152.55 236.20V234.20M152.55 24.60V26.60" class="tk"/>
<path d="M161.43 236.20V234.20M161.43 24.60V26.60" class="tk"/>
<path d="M168.31 236.20V234.20M168.31 24.60V26.60" class="tk"/>
<path d="M173.94 236.20V234.20M173.94 24.60V26.60" class="tk"/>
<path d="M178.69 236.20V234.20M178.69 24.60V26.60" class="tk"/>
<path d="M182.81 236.20V234.20M182.81 24.60V26.60" class="tk"/>
<path d="M186.45 236.20V234.20M186.45 24.60V26.60" class="tk"/>
<path d="M189.70 236.20V233.20M189.70 24.60V27.60" class="tk"/>
<path d="M211.09 236.20V234.20M211.09 24.60V26.60" class="tk"/>
<path d="M223.60 236.20V234.20M223.60 24.60V26.60" class="tk"/>
<path d="M232.48 236.20V234.20M232.48 24.60V26.60" class="tk"/>
<path d="M239.36 236.20V234.20M239.36 24.60V26.60" class="tk"/>
<path d="M244.99 236.20V234.20M244.99 24.60V26.60" class="tk"/>
<path d="M249.74 236.20V234.20M249.74 24.60V26.60" class="tk"/>
<path d="M253.86 236.20V234.20M253.86 24.60V26.60" class="tk"/>
<path d="M257.50 236.20V234.20M257.50 24.60V26.60" class="tk"/>
<path d="M260.75 236.20V233.20M260.75 24.60V27.60" class="tk"/>
<path d="M282.14 236.20V234.20M282.14 24.60V26.60" class="tk"/>
<path d="M294.65 236.20V234.20M294.65 24.60V26.60" class="tk"/>
<path d="M303.53 236.20V234.20M303.53 24.60V26.60" class="tk"/>
<path d="M310.41 236.20V234.20M310.41 24.60V26.60" class="tk"/>
<path d="M316.04 236.20V234.20M316.04 24.60V26.60" class="tk"/>
<path d="M320.79 236.20V234.20M320.79 24.60V26.60" class="tk"/>
<path d="M324.91 236.20V234.20M324.91 24.60V26.60" class="tk"/>
<path d="M328.55 236.20V234.20M328.55 24.60V26.60" class="tk"/>
<path d="M47.60 236.20H50.60M331.80 236.20H328.80" class="tk"/>
<path d="M47.60 205.97H50.60M331.80 205.97H328.80" class="tk"/>
<path d="M47.60 175.74H50.60M331.80 175.74H328.80" class="tk"/>
<path d="M47.60 145.51H50.60M331.80 145.51H328.80" class="tk"/>
<path d="M47.60 115.29H50.60M331.80 115.29H328.80" class="tk"/>
<path d="M47.60 85.06H50.60M331.80 85.06H328.80" class="tk"/>
<path d="M47.60 54.83H50.60M331.80 54.83H328.80" class="tk"/>
<path d="M47.60 24.60H50.60M331.80 24.60H328.80" class="tk"/>
<rect x="47.75" y="24.75" width="284.15" height="211.55" class="ax"/>
<path d="M67.88 524.00V522.00M67.88 312.70V314.70" class="tk"/>
<path d="M80.44 524.00V522.00M80.44 312.70V314.70" class="tk"/>
<path d="M89.36 524.00V522.00M89.36 312.70V314.70" class="tk"/>
<path d="M96.27 524.00V522.00M96.27 312.70V314.70" class="tk"/>
<path d="M101.92 524.00V522.00M101.92 312.70V314.70" class="tk"/>
<path d="M106.70 524.00V522.00M106.70 312.70V314.70" class="tk"/>
<path d="M110.84 524.00V522.00M110.84 312.70V314.70" class="tk"/>
<path d="M114.49 524.00V522.00M114.49 312.70V314.70" class="tk"/>
<path d="M117.75 524.00V521.00M117.75 312.70V315.70" class="tk"/>
<path d="M139.23 524.00V522.00M139.23 312.70V314.70" class="tk"/>
<path d="M151.79 524.00V522.00M151.79 312.70V314.70" class="tk"/>
<path d="M160.71 524.00V522.00M160.71 312.70V314.70" class="tk"/>
<path d="M167.62 524.00V522.00M167.62 312.70V314.70" class="tk"/>
<path d="M173.27 524.00V522.00M173.27 312.70V314.70" class="tk"/>
<path d="M178.05 524.00V522.00M178.05 312.70V314.70" class="tk"/>
<path d="M182.19 524.00V522.00M182.19 312.70V314.70" class="tk"/>
<path d="M185.84 524.00V522.00M185.84 312.70V314.70" class="tk"/>
<path d="M189.10 524.00V521.00M189.10 312.70V315.70" class="tk"/>
<path d="M210.58 524.00V522.00M210.58 312.70V314.70" class="tk"/>
<path d="M223.14 524.00V522.00M223.14 312.70V314.70" class="tk"/>
<path d="M232.06 524.00V522.00M232.06 312.70V314.70" class="tk"/>
<path d="M238.97 524.00V522.00M238.97 312.70V314.70" class="tk"/>
<path d="M244.62 524.00V522.00M244.62 312.70V314.70" class="tk"/>
<path d="M249.40 524.00V522.00M249.40 312.70V314.70" class="tk"/>
<path d="M253.54 524.00V522.00M253.54 312.70V314.70" class="tk"/>
<path d="M257.19 524.00V522.00M257.19 312.70V314.70" class="tk"/>
<path d="M260.45 524.00V521.00M260.45 312.70V315.70" class="tk"/>
<path d="M281.93 524.00V522.00M281.93 312.70V314.70" class="tk"/>
<path d="M294.49 524.00V522.00M294.49 312.70V314.70" class="tk"/>
<path d="M303.41 524.00V522.00M303.41 312.70V314.70" class="tk"/>
<path d="M310.32 524.00V522.00M310.32 312.70V314.70" class="tk"/>
<path d="M315.97 524.00V522.00M315.97 312.70V314.70" class="tk"/>
<path d="M320.75 524.00V522.00M320.75 312.70V314.70" class="tk"/>
<path d="M324.89 524.00V522.00M324.89 312.70V314.70" class="tk"/>
<path d="M328.54 524.00V522.00M328.54 312.70V314.70" class="tk"/>
<path d="M46.40 524.00H49.40M331.80 524.00H328.80" class="tk"/>
<path d="M46.40 500.52H49.40M331.80 500.52H328.80" class="tk"/>
<path d="M46.40 477.04H49.40M331.80 477.04H328.80" class="tk"/>
<path d="M46.40 453.57H49.40M331.80 453.57H328.80" class="tk"/>
<path d="M46.40 430.09H49.40M331.80 430.09H328.80" class="tk"/>
<path d="M46.40 406.61H49.40M331.80 406.61H328.80" class="tk"/>
<path d="M46.40 383.13H49.40M331.80 383.13H328.80" class="tk"/>
<path d="M46.40 359.66H49.40M331.80 359.66H328.80" class="tk"/>
<path d="M46.40 336.18H49.40M331.80 336.18H328.80" class="tk"/>
<path d="M46.40 312.70H49.40M331.80 312.70H328.80" class="tk"/>
<rect x="46.45" y="312.80" width="285.35" height="211.20" class="ax"/>
<text x="49.00" y="254.80" font-size="11.2" text-anchor="end">10</text>
<text x="49.20" y="249.50" font-size="7.6">18</text>
<text x="120.05" y="254.80" font-size="11.2" text-anchor="end">10</text>
<text x="120.25" y="249.50" font-size="7.6">19</text>
<text x="191.10" y="254.80" font-size="11.2" text-anchor="end">10</text>
<text x="191.30" y="249.50" font-size="7.6">20</text>
<text x="262.15" y="254.80" font-size="11.2" text-anchor="end">10</text>
<text x="262.35" y="249.50" font-size="7.6">21</text>
<text x="333.20" y="254.80" font-size="11.2" text-anchor="end">10</text>
<text x="333.40" y="249.50" font-size="7.6">22</text>
<text x="47.80" y="542.60" font-size="11.2" text-anchor="end">10</text>
<text x="48.00" y="537.30" font-size="7.6">18</text>
<text x="119.15" y="542.60" font-size="11.2" text-anchor="end">10</text>
<text x="119.35" y="537.30" font-size="7.6">19</text>
<text x="190.50" y="542.60" font-size="11.2" text-anchor="end">10</text>
<text x="190.70" y="537.30" font-size="7.6">20</text>
<text x="261.85" y="542.60" font-size="11.2" text-anchor="end">10</text>
<text x="262.05" y="537.30" font-size="7.6">21</text>
<text x="333.20" y="542.60" font-size="11.2" text-anchor="end">10</text>
<text x="333.40" y="537.30" font-size="7.6">22</text>
<text x="44.20" y="240.80" font-size="11" text-anchor="end">300</text>
<text x="44.20" y="210.57" font-size="11" text-anchor="end">400</text>
<text x="44.20" y="180.34" font-size="11" text-anchor="end">500</text>
<text x="44.20" y="150.11" font-size="11" text-anchor="end">600</text>
<text x="44.20" y="119.89" font-size="11" text-anchor="end">700</text>
<text x="44.20" y="89.66" font-size="11" text-anchor="end">800</text>
<text x="44.20" y="59.43" font-size="11" text-anchor="end">900</text>
<text x="44.20" y="29.20" font-size="11" text-anchor="end">1000</text>
<text x="42.30" y="528.60" font-size="11" text-anchor="end">0.5</text>
<text x="42.30" y="505.12" font-size="11" text-anchor="end">1</text>
<text x="42.30" y="481.64" font-size="11" text-anchor="end">1.5</text>
<text x="42.30" y="458.17" font-size="11" text-anchor="end">2</text>
<text x="42.30" y="434.69" font-size="11" text-anchor="end">2.5</text>
<text x="42.30" y="411.21" font-size="11" text-anchor="end">3</text>
<text x="42.30" y="387.73" font-size="11" text-anchor="end">3.5</text>
<text x="42.30" y="364.26" font-size="11" text-anchor="end">4</text>
<text x="42.30" y="340.78" font-size="11" text-anchor="end">4.5</text>
<text x="42.30" y="317.30" font-size="11" text-anchor="end">5</text>
<text x="47.4" y="18.4" font-size="25.2" textLength="33" lengthAdjust="spacingAndGlyphs">(a)</text>
<text x="47.4" y="306.8" font-size="25.2" textLength="32.6" lengthAdjust="spacingAndGlyphs">(b)</text>
<text x="110.4" y="20.3" font-size="15.6" textLength="158.5" lengthAdjust="spacingAndGlyphs">Evaporation time (ms)</text>
<text x="109.2" y="308.4" font-size="15.6" textLength="158.5" lengthAdjust="spacingAndGlyphs">Evaporation time (ms)</text>
<text x="108.2" y="276.6" font-size="16.2" textLength="142.0" lengthAdjust="spacingAndGlyphs">Electron density (m</text>
<text x="250.8" y="270.3" font-size="11.4">&#8722;3</text>
<text x="265.6" y="276.6" font-size="16.2">)</text>
<text x="107.3" y="564.1" font-size="16.2" textLength="142.8" lengthAdjust="spacingAndGlyphs">Electron density (m</text>
<text x="250.7" y="557.8000000000001" font-size="11.4">&#8722;3</text>
<text x="265.5" y="564.1" font-size="16.2">)</text>
<text transform="translate(13.2,205.2) rotate(-90)" font-size="16.2" textLength="148.6" lengthAdjust="spacingAndGlyphs">Gas temperature (K)</text>
<text transform="translate(21.0,514.0) rotate(-90)" font-size="16.2" textLength="190.6" lengthAdjust="spacingAndGlyphs">Electron temperature (eV)</text>
</svg>
</body></html>
